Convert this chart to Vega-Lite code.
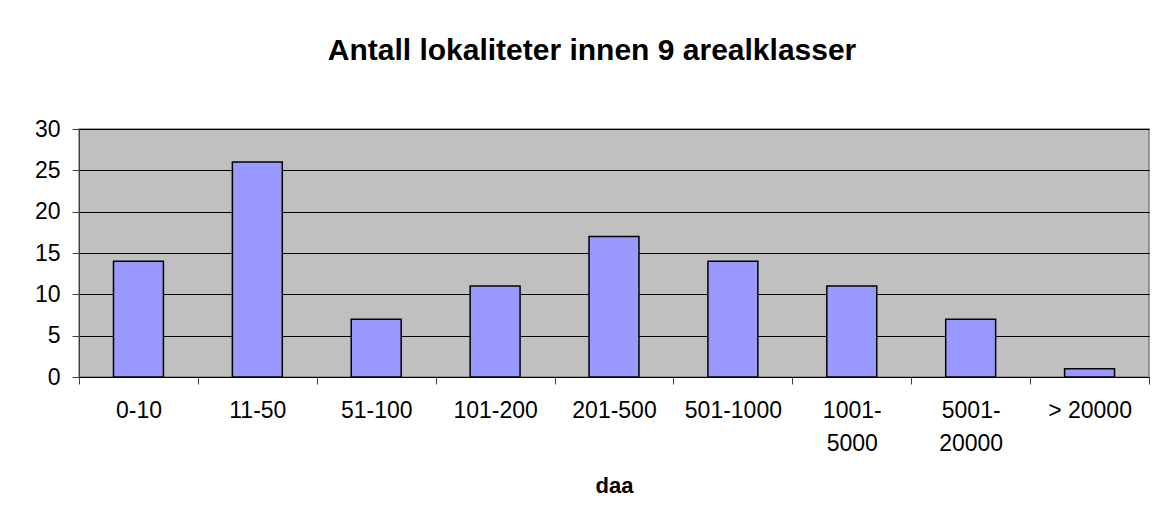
{
  "$schema": "https://vega.github.io/schema/vega-lite/v6.json",
  "width": 1070,
  "height": 248,
  "autosize": {"type": "none"},
  "padding": {"left": 79, "top": 129, "right": 3, "bottom": 152},
  "background": "white",
  "title": {
    "text": "Antall lokaliteter innen 9 arealklasser",
    "font": "Liberation Sans",
    "fontSize": 30,
    "fontWeight": "bold",
    "color": "black",
    "anchor": "middle",
    "baseline": "alphabetic",
    "offset": 28,
    "dx": -22
  },
  "data": {
    "values": [
      {"klasse": "0-10", "antall": 14},
      {"klasse": "11-50", "antall": 26},
      {"klasse": "51-100", "antall": 7},
      {"klasse": "101-200", "antall": 11},
      {"klasse": "201-500", "antall": 17},
      {"klasse": "501-1000", "antall": 14},
      {"klasse": "1001-5000", "antall": 11},
      {"klasse": "5001-20000", "antall": 7},
      {"klasse": "> 20000", "antall": 1}
    ]
  },
  "mark": {"type": "bar", "fill": "#9999FF", "stroke": "black", "strokeWidth": 1.5, "width": {"band": 0.42}},
  "encoding": {
    "x": {
      "field": "klasse",
      "type": "nominal",
      "sort": null,
      "scale": {"paddingInner": 0, "paddingOuter": 0},
      "axis": {
        "title": "daa",
        "titleFont": "Liberation Sans",
        "titleFontSize": 22,
        "titleFontWeight": "bold",
        "titleColor": "black",
        "titlePadding": 20,
        "labelAngle": 0,
        "labelFont": "Liberation Sans",
        "labelFontSize": 23,
        "labelColor": "black",
        "labelPadding": 15,
        "labelLineHeight": 33,
        "labelExpr": "datum.label == '1001-5000' ? ['1001-', '5000'] : datum.label == '5001-20000' ? ['5001-', '20000'] : datum.label",
        "tickBand": "extent",
        "ticks": true,
        "tickSize": 7,
        "tickColor": "#404040",
        "domainColor": "black",
        "grid": false
      }
    },
    "y": {
      "field": "antall",
      "type": "quantitative",
      "scale": {"domain": [0, 30], "nice": false},
      "axis": {
        "title": null,
        "values": [0, 5, 10, 15, 20, 25, 30],
        "labelFont": "Liberation Sans",
        "labelFontSize": 23,
        "labelColor": "black",
        "labelPadding": 12,
        "tickSize": 7,
        "tickColor": "#404040",
        "domainColor": "#404040",
        "grid": true,
        "gridColor": "black",
        "gridOpacity": 1,
        "gridWidth": 1
      }
    }
  },
  "config": {
    "view": {"fill": "#C0C0C0", "stroke": "#808080", "strokeWidth": 1.5}
  }
}
